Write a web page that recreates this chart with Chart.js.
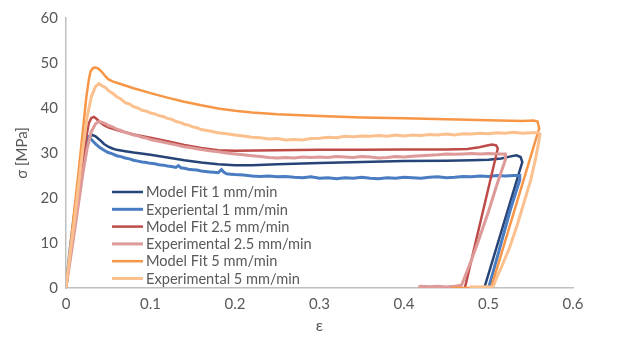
<!DOCTYPE html>
<html>
<head>
    <title>Chart</title>
    <script src="https://cdn.jsdelivr.net/npm/chart.js"></script>
    <style>
        body { margin: 0; background: #fff; }
        #box { width: 630px; height: 337px; }
    </style>
</head>
<body>
    <div id="box"><canvas id="stress"></canvas></div>
    <script>
        // strain (eps) / stress (MPa) pairs
        var fit1 = [[0,0],[0.008,11.5],[0.015,21.8],[0.02,28.5],[0.024,32.4],[0.028,33.6],[0.031,34.0],[0.035,33.7],[0.04,32.9],[0.045,32.0],[0.05,31.4],[0.055,31.0],[0.06,30.7],[0.07,30.4],[0.08,30.1],[0.1,29.6],[0.12,29.0],[0.14,28.4],[0.16,27.9],[0.18,27.5],[0.2,27.3],[0.22,27.3],[0.25,27.5],[0.3,27.8],[0.35,28.0],[0.4,28.2],[0.45,28.3],[0.48,28.4],[0.5,28.5],[0.515,28.8],[0.525,29.2],[0.533,29.5],[0.538,29.1],[0.54,28.0],[0.495,0]];
        var exp1 = [[0,0],[0.005,9],[0.01,16.5],[0.015,23.5],[0.02,29.5],[0.024,33.0],[0.027,33.6],[0.03,33.0],[0.035,32.0],[0.04,31.2],[0.045,30.6],[0.05,30.1],[0.055,29.8],[0.06,29.4],[0.065,29.2],[0.07,28.9],[0.075,28.7],[0.08,28.4],[0.085,28.2],[0.09,28.0],[0.095,27.9],[0.1,27.7],[0.105,27.6],[0.11,27.4],[0.115,27.3],[0.12,27.1],[0.125,27.0],[0.13,26.8],[0.133,27.2],[0.136,26.7],[0.14,26.6],[0.145,26.4],[0.15,26.3],[0.155,26.2],[0.16,26.0],[0.165,25.9],[0.17,25.8],[0.175,25.7],[0.18,25.6],[0.184,26.3],[0.187,25.7],[0.19,25.4],[0.195,25.3],[0.2,25.2],[0.21,25.1],[0.22,24.9],[0.23,24.8],[0.24,24.9],[0.25,24.7],[0.26,24.8],[0.27,24.6],[0.28,24.5],[0.29,24.7],[0.3,24.4],[0.31,24.5],[0.32,24.3],[0.33,24.5],[0.34,24.4],[0.35,24.6],[0.36,24.4],[0.37,24.3],[0.38,24.5],[0.39,24.4],[0.4,24.6],[0.41,24.5],[0.42,24.4],[0.43,24.6],[0.44,24.7],[0.45,24.5],[0.46,24.6],[0.47,24.8],[0.48,24.7],[0.49,24.9],[0.5,24.8],[0.51,25.0],[0.52,24.9],[0.53,25.0],[0.537,25.0],[0.537,24.0],[0.526,17.5],[0.516,10.7],[0.506,3.9],[0.5,0]];
        var fit25 = [[0,0],[0.008,11],[0.015,21],[0.02,28],[0.024,33.5],[0.027,36.6],[0.03,37.8],[0.033,38.0],[0.036,37.6],[0.04,36.9],[0.045,36.2],[0.05,35.7],[0.06,35.1],[0.07,34.6],[0.08,34.1],[0.1,33.4],[0.12,32.6],[0.14,31.8],[0.16,31.1],[0.18,30.6],[0.2,30.5],[0.25,30.6],[0.3,30.7],[0.35,30.7],[0.4,30.8],[0.45,30.8],[0.475,30.9],[0.487,31.2],[0.497,31.6],[0.504,31.9],[0.509,31.7],[0.511,31.0],[0.472,0]];
        var exp25 = [[0,0],[0.008,10],[0.015,19],[0.02,25.5],[0.025,31],[0.03,34.8],[0.035,36.5],[0.039,37.0],[0.043,36.8],[0.047,36.5],[0.05,36.1],[0.055,35.8],[0.06,35.3],[0.065,35.0],[0.07,34.6],[0.075,34.3],[0.08,34.0],[0.085,33.8],[0.09,33.5],[0.095,33.3],[0.1,33.0],[0.11,32.6],[0.12,32.2],[0.13,31.8],[0.14,31.4],[0.15,31.1],[0.16,30.8],[0.17,30.5],[0.18,30.3],[0.19,30.0],[0.2,29.8],[0.21,29.6],[0.22,29.4],[0.23,29.2],[0.24,29.0],[0.25,28.9],[0.26,29.0],[0.27,28.9],[0.28,29.1],[0.29,29.0],[0.3,29.1],[0.31,29.0],[0.32,29.2],[0.33,29.1],[0.34,29.0],[0.35,29.2],[0.36,29.1],[0.37,28.9],[0.38,29.0],[0.39,29.2],[0.4,29.1],[0.41,29.3],[0.42,29.4],[0.43,29.5],[0.44,29.6],[0.45,29.8],[0.46,29.7],[0.47,29.8],[0.48,29.9],[0.49,29.8],[0.5,29.9],[0.51,29.8],[0.52,29.8],[0.52,28.5],[0.51,23],[0.5,17],[0.489,11],[0.478,5.3],[0.471,2],[0.468,0.6],[0.46,0.4],[0.45,0.2],[0.44,0.4],[0.43,0.3],[0.42,0.4],[0.417,0.2]];
        var fit5 = [[0,0],[0.008,14],[0.015,26],[0.02,35],[0.024,42.3],[0.027,46.3],[0.029,48.1],[0.032,48.9],[0.035,49.0],[0.038,48.8],[0.042,48.1],[0.046,47.2],[0.05,46.4],[0.055,45.9],[0.06,45.6],[0.07,45.0],[0.08,44.4],[0.1,43.3],[0.12,42.3],[0.14,41.4],[0.16,40.6],[0.18,39.9],[0.2,39.4],[0.22,39.0],[0.25,38.6],[0.3,38.2],[0.35,37.9],[0.4,37.7],[0.45,37.5],[0.5,37.3],[0.54,37.1],[0.553,37.2],[0.558,37.0],[0.56,35.5],[0.503,0],[0.456,0]];
        var exp5 = [[0,0],[0.005,8],[0.01,15],[0.015,23],[0.02,31],[0.025,38],[0.03,42.5],[0.035,44.8],[0.039,45.4],[0.043,44.9],[0.047,44.5],[0.05,43.9],[0.055,43.3],[0.06,42.5],[0.065,42.0],[0.07,41.2],[0.075,40.9],[0.08,40.3],[0.085,40.0],[0.09,39.5],[0.095,39.3],[0.1,38.9],[0.105,38.7],[0.11,38.3],[0.115,38.1],[0.12,37.7],[0.125,37.5],[0.13,37.0],[0.135,36.8],[0.14,36.4],[0.145,36.2],[0.15,35.8],[0.155,35.6],[0.16,35.2],[0.17,34.9],[0.18,34.5],[0.19,34.3],[0.2,34.0],[0.21,33.8],[0.22,33.5],[0.23,33.4],[0.24,33.1],[0.25,33.2],[0.26,32.9],[0.27,33.0],[0.28,32.9],[0.29,33.2],[0.3,33.3],[0.31,33.5],[0.32,33.4],[0.33,33.7],[0.34,33.6],[0.35,33.8],[0.36,33.7],[0.37,33.9],[0.38,33.7],[0.39,34.0],[0.4,33.8],[0.41,34.0],[0.42,33.9],[0.43,34.1],[0.44,34.0],[0.45,34.2],[0.46,34.0],[0.47,34.3],[0.48,34.2],[0.49,34.4],[0.5,34.3],[0.51,34.5],[0.52,34.4],[0.53,34.6],[0.54,34.4],[0.55,34.5],[0.559,34.5],[0.561,34.2],[0.56,33],[0.556,29],[0.55,24],[0.543,19.6],[0.534,14],[0.525,9],[0.515,4.5],[0.509,2],[0.506,0.5],[0.503,0.2],[0.496,0.3],[0.487,0.2],[0.478,0.3]];

        var seriesNames = ['Model Fit 1 mm/min', 'Experiental 1 mm/min', 'Model Fit 2.5 mm/min', 'Experimental 2.5 mm/min', 'Model Fit 5 mm/min', 'Experimental 5 mm/min'];
        var seriesData = [fit1, exp1, fit25, exp25, fit5, exp5];
        var xTicks = [0, 0.1, 0.2, 0.3, 0.4, 0.5, 0.6];
        var yTicks = [0, 10, 20, 30, 40, 50, 60];

        var colors = ['#264478', '#4A7CC2', '#BE4B48', '#DE9A98', '#F79646', '#FBC08E'];
        var widths = [2.5, 3, 2.5, 3, 2.5, 3];
        var font = 'Lato, "Liberation Sans", sans-serif';
        var grey = '#595959';

        // legend sits inside the plot, bottom left, like the Excel original
        var insideLegend = {
            id: 'insideLegend',
            afterDatasetsDraw: function(chart) {
                var c = chart.ctx, a = chart.chartArea;
                var x = a.left + 46, y = 192, step = 17.3;
                c.save();
                c.font = '14.6px ' + font;
                c.textBaseline = 'middle';
                chart.data.datasets.forEach(function(ds, i) {
                    var yy = y + i * step;
                    c.strokeStyle = ds.borderColor;
                    c.lineWidth = ds.borderWidth;
                    c.beginPath();
                    c.moveTo(x, yy);
                    c.lineTo(x + 31, yy);
                    c.stroke();
                    c.fillStyle = grey;
                    c.fillText(ds.label, x + 34, yy + 0.5);
                });
                c.restore();
            }
        };

        var ctx = document.getElementById('stress').getContext('2d');
        var chart = new Chart(ctx, {
            type: 'line',
            data: {
                datasets: seriesNames.map(function(name, i) {
                    return {
                        label: name,
                        data: seriesData[i].map(function(p) { return {x: p[0], y: p[1]}; }),
                        borderColor: colors[i],
                        backgroundColor: colors[i],
                        borderWidth: widths[i],
                        pointRadius: 0,
                        tension: 0,
                        order: 6 - i
                    };
                })
            },
            options: {
                responsive: true,
                maintainAspectRatio: false,
                animation: false,
                layout: { padding: { left: 0, right: 57, top: 18, bottom: 0 } },
                plugins: { legend: { display: false }, tooltip: { enabled: false } },
                scales: {
                    x: {
                        type: 'linear',
                        min: 0,
                        max: 0.6,
                        afterBuildTicks: function(s) { s.ticks = xTicks.map(function(v) { return {value: v}; }); },
                        afterFit: function(s) { s.height = 49; },
                        grid: { display: false, drawTicks: false },
                        border: { display: true, color: '#BFBFBF', width: 1.5 },
                        ticks: { color: grey, padding: 7, font: { family: font, size: 15 }, maxRotation: 0,
                            callback: function(v) { return String(v); } },
                        title: { display: true, text: 'ε', color: grey, font: { family: font, size: 16 }, padding: { top: 0, bottom: 2 } }
                    },
                    y: {
                        min: 0,
                        max: 60,
                        afterBuildTicks: function(s) { s.ticks = yTicks.map(function(v) { return {value: v}; }); },
                        afterFit: function(s) { s.width = 66; },
                        grid: { display: false, drawTicks: false },
                        border: { display: true, color: '#BFBFBF', width: 1.5 },
                        ticks: { color: grey, padding: 8, font: { family: font, size: 15 } },
                        title: { display: true, text: 'σ [MPa]', color: grey, font: { family: font, size: 15 }, padding: { top: 13, bottom: 0 } }
                    }
                }
            },
            plugins: [insideLegend]
        });
    </script>
</body>
</html>
